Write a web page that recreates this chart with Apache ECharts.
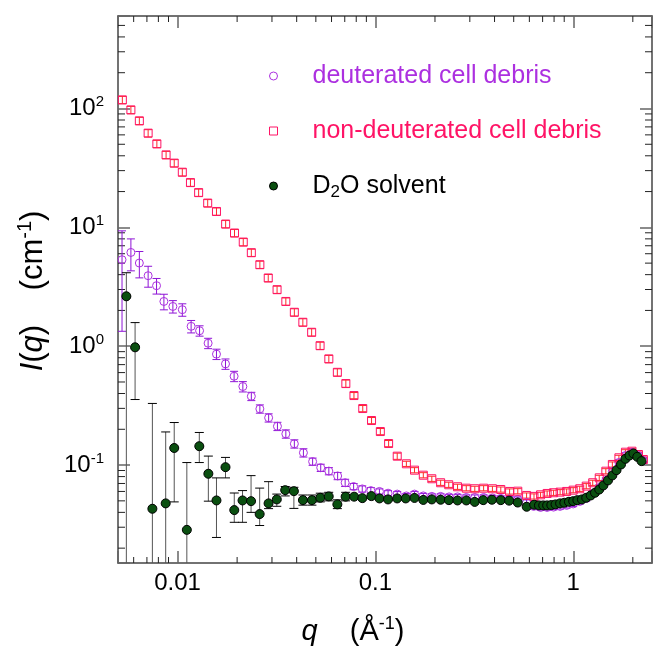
<!DOCTYPE html>
<html><head><meta charset="utf-8">
<script src="https://cdn.jsdelivr.net/npm/echarts@6/dist/echarts.min.js"></script>
<style>html,body{margin:0;padding:0;background:#fff}#c{width:655px;height:652px}</style>
</head><body><div id="c"></div>
<script>
// ---------- data ----------
const qDeut = [0.00524,0.00581,0.00641,0.00710,0.00783,0.00853,0.00947,0.01057,0.01171,0.01292,0.01427,0.01573,0.01747,0.01931,0.02138,0.0236,0.02606,0.02886,0.03198,0.03526,0.03893,0.04326,0.04815,0.05292,0.05815,0.06442,0.07031,0.0776,0.0858,0.0948,0.1048,0.1159,0.1289,0.1434,0.1576,0.1746,0.1928,0.2136,0.2357,0.2600,0.2879,0.3179,0.3523,0.3903,0.4302,0.4766,0.5243,0.5808,0.631,0.6836,0.7377,0.7951,0.858,0.926,0.999,1.078,1.163,1.254,1.353,1.461,1.576,1.701,1.835,1.980,2.136,2.261];
const iDeut = [5.34,6.15,5.01,3.92,3.23,2.38,2.16,2.03,1.47,1.35,1.06,0.858,0.710,0.559,0.458,0.379,0.297,0.250,0.212,0.183,0.151,0.127,0.107,0.095,0.089,0.081,0.071,0.066,0.063,0.061,0.060,0.058,0.057,0.055,0.057,0.055,0.0545,0.0545,0.054,0.054,0.0534,0.0534,0.0534,0.0529,0.0524,0.052,0.0514,0.0485,0.0449,0.044,0.044,0.0443,0.0449,0.0458,0.0471,0.0494,0.0524,0.0577,0.0648,0.0743,0.0884,0.1052,0.1204,0.1276,0.1204,0.1093];
const errDeut = [0.75,0.3,0.25,0.2,0.15,0.15,0.12,0.12,0.12,0.1,0.1,0.1,0.1,0.1,0.1,0.08,0.08,0.08,0.08,0.08,0.08,0.08,0.07,0.07,0.07,0.07,0.07,0.06,0.06,0.06,0.05,0.05,0.05,0.05,0.05,0.05,0.05,0.05,0.05,0.05,0.05,0.05,0.05,0.05,0.05,0.05,0.05,0.05,0.05,0.05,0.05,0.05,0.05,0.05,0.05,0.05,0.05,0.05,0.05,0.05,0.05,0.05,0.05,0.05,0.05,0.05];

const qNon = [0.00526,0.00581,0.00641,0.00710,0.00786,0.00875,0.00962,0.01057,0.01162,0.01278,0.01420,0.01573,0.01750,0.01940,0.02148,0.0236,0.02606,0.02873,0.03184,0.03526,0.03893,0.04298,0.04761,0.05252,0.05815,0.06421,0.07089,0.0779,0.0863,0.0956,0.1059,0.1166,0.1289,0.1434,0.1576,0.1746,0.1928,0.2136,0.2347,0.2600,0.2879,0.3179,0.3523,0.3903,0.4302,0.4766,0.5243,0.5808,0.6332,0.6836,0.7377,0.7951,0.858,0.926,0.999,1.078,1.163,1.254,1.353,1.461,1.576,1.701,1.835,1.980,2.136,2.261];
const iNon = [118.1,97.3,78.7,62.0,50.4,40.7,34.7,29.1,23.8,19.6,16.0,13.6,10.66,8.96,7.52,6.12,4.85,3.75,2.99,2.38,1.93,1.59,1.31,1.01,0.782,0.603,0.485,0.3845,0.299,0.237,0.1915,0.1518,0.1188,0.1025,0.0906,0.0822,0.0767,0.0710,0.0683,0.0657,0.0639,0.0632,0.0639,0.0632,0.0623,0.0600,0.0603,0.0555,0.0545,0.0562,0.0577,0.0585,0.0592,0.0600,0.0615,0.0632,0.0665,0.0710,0.0781,0.0888,0.1012,0.1151,0.1283,0.1308,0.1227,0.1114];
const errNon = [0.07,0.07,0.07,0.07,0.07,0.07,0.07,0.07,0.07,0.07,0.07,0.07,0.07,0.07,0.07,0.07,0.07,0.07,0.07,0.07,0.07,0.07,0.07,0.07,0.07,0.07,0.07,0.06,0.06,0.06,0.06,0.06,0.06,0.05,0.05,0.05,0.05,0.05,0.05,0.05,0.05,0.05,0.05,0.05,0.05,0.05,0.05,0.05,0.05,0.05,0.05,0.05,0.05,0.05,0.05,0.05,0.05,0.05,0.05,0.05,0.05,0.05,0.05,0.05,0.05,0.05];

const qD2O = [0.00551,0.0061,0.00746,0.00871,0.00962,0.01114,0.01288,0.01431,0.01573,0.01747,0.01935,0.0213,0.02352,0.026,0.02884,0.03174,0.035,0.03872,0.04302,0.04777,0.05264,0.05808,0.06421,0.07072,0.07807,0.0859,0.0954,0.1048,0.1158,0.1288,0.1423,0.1576,0.1746,0.1928,0.2136,0.2352,0.26,0.2879,0.3176,0.3507,0.3881,0.4302,0.474,0.5241,0.5814,0.6345,0.6707,0.7049,0.7377,0.7746,0.8136,0.858,0.9012,0.9506,0.999,1.049,1.106,1.163,1.225,1.288,1.353,1.420,1.498,1.576,1.654,1.743,1.835,1.924,2.013,2.107,2.213];
const iD2O = [2.63,0.979,0.0429,0.0476,0.1392,0.0285,0.1441,0.0845,0.0504,0.0960,0.0418,0.0504,0.0497,0.0387,0.0476,0.0514,0.0615,0.0603,0.0507,0.0507,0.0531,0.0545,0.0467,0.0542,0.0542,0.0527,0.0548,0.0524,0.0514,0.0524,0.0524,0.0529,0.0509,0.0514,0.0511,0.0507,0.0504,0.0504,0.049,0.0507,0.0511,0.0507,0.0502,0.0484,0.0446,0.0464,0.0458,0.0458,0.0458,0.0461,0.0467,0.0476,0.0482,0.0491,0.0497,0.0507,0.0514,0.0531,0.0555,0.0585,0.0623,0.0674,0.0743,0.0818,0.0906,0.1012,0.1129,0.1204,0.1252,0.1173,0.1080];
// error-bar bounds for the first (noisy) D2O points
const d2oLow  = [0.001,0.356,0.001,0.001,0.049,0.001,0.105,0.0497,0.0246,0.078,0.033,0.033,0.040,0.031,0.043,0.045,0.055,0.0432,0.046,0.046,0.049,0.050,0.043,0.050];
const d2oHigh = [4.15,1.58,0.33,0.19,0.228,0.105,0.188,0.119,0.078,0.116,0.0582,0.061,0.0815,0.064,0.0725,0.057,0.066,0.065,0.056,0.056,0.058,0.059,0.051,0.059];

const xMajorTicks = [0.01, 0.1, 1];
const xTickLabels = ['0.01', '0.1', '1'];
const yMajorTicks = [0.1, 1, 10, 100];
const yTickExps = ['-1', '0', '1', '2'];
const xMinorTicks = [0.006,0.007,0.008,0.009,0.02,0.03,0.04,0.05,0.06,0.07,0.08,0.09,0.2,0.3,0.4,0.5,0.6,0.7,0.8,0.9,2];
const yMinorTicks = [0.02,0.03,0.04,0.05,0.06,0.07,0.08,0.09,0.2,0.3,0.4,0.5,0.6,0.7,0.8,0.9,2,3,4,5,6,7,8,9,20,30,40,50,60,70,80,90,200,300,400,500];
const X_MIN = 0.005, X_MAX = 2.5, Y_MIN = 0.015, Y_MAX = 600;

const NAME_DEUT = 'deuterated cell debris';
const NAME_NON = 'non-deuterated cell debris';
const NAME_D2O = 'D2O solvent';

// ---------- styles ----------
const FONT = "'Liberation Sans', Arial, Helvetica, sans-serif";
const PURPLE = '#AC30E0', PURPLE_ERR = '#8E14D6';
const PINK = '#FF1466', RED_ERR = '#FF2A2A';
const GREEN = '#0A4F10';

const chart = echarts.init(document.getElementById('c'), null, {renderer: 'canvas'});

function errorBarSeries(data, color, capHalf, lineColor) {
  return {
    type: 'custom', coordinateSystem: 'cartesian2d', silent: true, clip: true,
    encode: {x: 0, y: [1, 2]},
    data: data,
    renderItem: function (params, api) {
      const q = api.value(0), lo = api.value(1), hi = api.value(2);
      const t = api.coord([q, hi]);
      const b = api.coord([q, lo]);
      const st = {stroke: color, lineWidth: 1};
      return {type: 'group', children: [
        {type: 'line', shape: {x1: t[0], y1: t[1], x2: b[0], y2: b[1]}, style: {stroke: lineColor || color, lineWidth: 1}},
        {type: 'line', shape: {x1: t[0] - capHalf, y1: t[1], x2: t[0] + capHalf, y2: t[1]}, style: st},
        {type: 'line', shape: {x1: b[0] - capHalf, y1: b[1], x2: b[0] + capHalf, y2: b[1]}, style: st}
      ]};
    }
  };
}

function minorTickSeries(values, isX) {
  return {
    type: 'custom', coordinateSystem: 'cartesian2d', silent: true, clip: false,
    encode: {x: 0, y: 1},
    data: values.map(v => isX ? [v, Y_MIN] : [X_MIN, v]),
    renderItem: function (params, api) {
      const st = {stroke: '#222', lineWidth: 1};
      if (isX) {
        const v = api.value(0);
        const b = api.coord([v, Y_MIN]);
        const t = api.coord([v, Y_MAX]);
        return {type: 'group', children: [
          {type: 'line', shape: {x1: b[0], y1: b[1], x2: b[0], y2: b[1] - 6}, style: st},
          {type: 'line', shape: {x1: t[0], y1: t[1], x2: t[0], y2: t[1] + 6}, style: st}
        ]};
      } else {
        const v = api.value(1);
        const l = api.coord([X_MIN, v]);
        const r = api.coord([X_MAX, v]);
        return {type: 'group', children: [
          {type: 'line', shape: {x1: l[0], y1: l[1], x2: l[0] + 7, y2: l[1]}, style: st},
          {type: 'line', shape: {x1: r[0], y1: r[1], x2: r[0] - 7, y2: r[1]}, style: st}
        ]};
      }
    }
  };
}

function xLabel(v) {
  for (let i = 0; i < xMajorTicks.length; i++) if (Math.abs(v - xMajorTicks[i]) / xMajorTicks[i] < 1e-6) return xTickLabels[i];
  return '';
}
function yLabel(v) {
  for (let i = 0; i < yMajorTicks.length; i++) if (Math.abs(v - yMajorTicks[i]) / yMajorTicks[i] < 1e-6) return '{b|10}{s|' + yTickExps[i] + '}';
  return '';
}

const axisLine = {show: true, lineStyle: {color: '#444', width: 1.5}};
const majorTick = {show: true, inside: true, length: 12, lineStyle: {color: '#666', width: 1.5}};

const xBase = {type: 'log', logBase: 10, min: X_MIN, max: X_MAX, splitLine: {show: false}, axisLine: axisLine, axisTick: majorTick};
const yBase = {type: 'log', logBase: 10, min: Y_MIN, max: Y_MAX, splitLine: {show: false}, axisLine: axisLine, axisTick: majorTick};

const deutData = qDeut.map((q, i) => [q, iDeut[i]]);
const nonData = qNon.map((q, i) => [q, iNon[i]]);
const d2oData = qD2O.map((q, i) => [q, iD2O[i]]);
const deutErr = qDeut.map((q, i) => [q, iDeut[i] * (1 - errDeut[i]), iDeut[i] * (1 + errDeut[i])]);
const nonErr = qNon.map((q, i) => [q, iNon[i] * (1 - errNon[i]), iNon[i] * (1 + errNon[i])]);
const d2oErr = d2oLow.map((lo, i) => [qD2O[i], lo, d2oHigh[i]]);

const option = {
  animation: false,
  backgroundColor: '#ffffff',
  grid: {left: 118, top: 16, right: -9, bottom: 89, containLabel: false},
  xAxis: [
    Object.assign({}, xBase, {position: 'bottom',
      axisLabel: {show: true, margin: 8, color: '#000', fontSize: 24, fontFamily: FONT, formatter: xLabel}}),
    Object.assign({}, xBase, {position: 'top', axisLabel: {show: false}})
  ],
  yAxis: [
    Object.assign({}, yBase, {position: 'left',
      axisLabel: {show: true, margin: 14, color: '#000', fontFamily: FONT, formatter: yLabel,
        rich: {b: {fontSize: 24, fontFamily: FONT, color: '#000'}, s: {fontSize: 15, fontFamily: FONT, color: '#000', padding: [0, 0, 13, 0]}}}}),
    Object.assign({}, yBase, {position: 'right', axisLabel: {show: false}})
  ],
  legend: {
    orient: 'vertical', left: 269, top: 61, padding: 0,
    itemWidth: 8, itemHeight: 8, itemGap: 25, selectedMode: false,
    textStyle: {fontSize: 25, fontFamily: FONT, lineHeight: 30, padding: [0, 0, 0, 30],
      rich: {n: {fontSize: 25, fontFamily: FONT, color: '#000', lineHeight: 30},
             sub: {fontSize: 17, fontFamily: FONT, color: '#000', lineHeight: 30, padding: [12, 0, 0, 0]}}},
    formatter: function (name) { return name === NAME_D2O ? '{n|D}{sub|2}{n|O solvent}' : name; },
    data: [
      {name: NAME_DEUT, icon: 'circle', itemStyle: {color: '#fff', borderColor: PURPLE, borderWidth: 1, opacity: 1}, textStyle: {color: PURPLE}},
      {name: NAME_NON, icon: 'rect', itemStyle: {color: '#fff', borderColor: PINK, borderWidth: 1, opacity: 1}, textStyle: {color: PINK}},
      {name: NAME_D2O, icon: 'circle', itemStyle: {color: GREEN, borderColor: '#000', borderWidth: 1, opacity: 1}, textStyle: {color: '#000'}}
    ]
  },
  graphic: [
    {type: 'text', x: 353, y: 632, silent: true,
      style: {text: '{i|q}{n|    (Å}{s|-1}{n|)}', align: 'center', verticalAlign: 'middle',
        rich: {i: {fontSize: 29, fontFamily: FONT, fontStyle: 'italic', fill: '#000'},
               n: {fontSize: 29, fontFamily: FONT, fill: '#000'},
               s: {fontSize: 18, fontFamily: FONT, fill: '#000', padding: [0, 0, 15, 0]}}}},
    {type: 'text', x: 33, y: 291, rotation: Math.PI / 2, silent: true,
      style: {text: '{i|I}{n|(}{i|q}{n|)    (cm}{s|-1}{n|)}', align: 'center', verticalAlign: 'middle',
        rich: {i: {fontSize: 31, fontFamily: FONT, fontStyle: 'italic', fill: '#000'},
               n: {fontSize: 31, fontFamily: FONT, fill: '#000'},
               s: {fontSize: 20, fontFamily: FONT, fill: '#000', padding: [0, 0, 15, 0]}}}}
  ],
  series: [
    minorTickSeries(xMinorTicks, true),
    minorTickSeries(yMinorTicks, false),
    errorBarSeries(deutErr, PURPLE_ERR, 4),
    {type: 'scatter', name: NAME_DEUT, data: deutData, symbol: 'circle', symbolSize: 8,
      itemStyle: {color: 'rgba(255,255,255,0)', borderColor: PURPLE, borderWidth: 1, opacity: 1}, clip: true},
    errorBarSeries(nonErr, RED_ERR, 4),
    {type: 'scatter', name: NAME_NON, data: nonData, symbol: 'rect', symbolSize: 8,
      itemStyle: {color: 'rgba(255,255,255,0)', borderColor: PINK, borderWidth: 1, opacity: 1}, clip: true},
    errorBarSeries(d2oErr, '#000', 4.5, '#555'),
    {type: 'scatter', name: NAME_D2O, data: d2oData, symbol: 'circle', symbolSize: 9,
      itemStyle: {color: GREEN, borderColor: '#000', borderWidth: 1, opacity: 1}, clip: true}
  ]
};
chart.setOption(option);
</script>
</body></html>
